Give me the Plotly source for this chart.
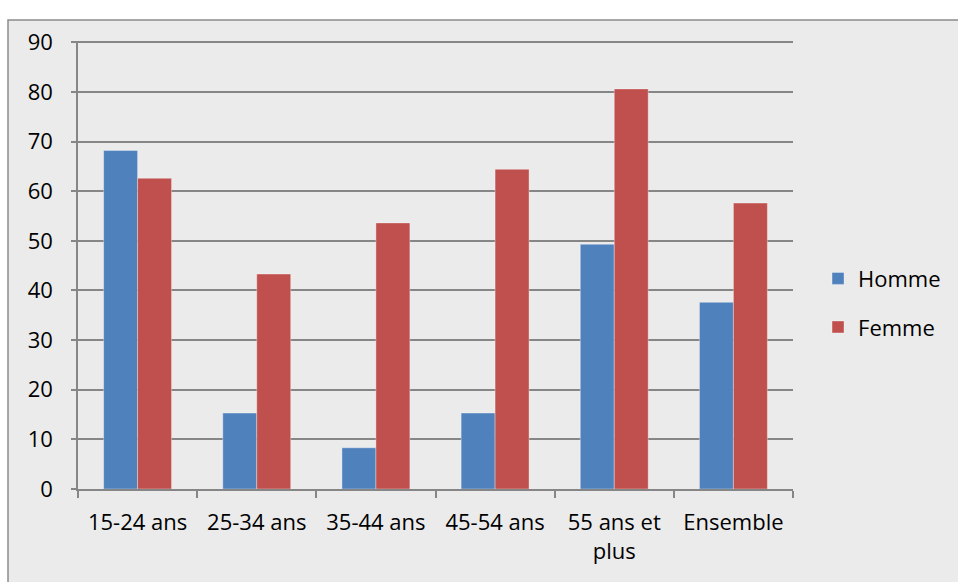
import plotly.graph_objects as go

categories = ["15-24 ans", "25-34 ans", "35-44 ans", "45-54 ans", "55 ans et<br>plus", "Ensemble"]
homme = [68.2, 15.3, 8.3, 15.3, 49.3, 37.6]
femme = [62.6, 43.3, 53.6, 64.4, 80.6, 57.6]
y_ticks = [0, 10, 20, 30, 40, 50, 60, 70, 80, 90]

BLUE = "#4F81BD"
RED = "#C0504D"
GRID = "#868686"
BG = "#EBEBEB"
FONT = "Open Sans, Liberation Sans, sans-serif"

fig = go.Figure()
fig.add_trace(go.Bar(
    name="Homme", x=categories, y=homme,
    marker=dict(color=BLUE, line=dict(color="rgba(255,255,255,0.35)", width=1)),
    legendgroup="h",
))
fig.add_trace(go.Bar(
    name="Femme", x=categories, y=femme,
    marker=dict(color=RED, line=dict(color="rgba(255,255,255,0.35)", width=1)),
    legendgroup="f",
))

W, H = 958, 582
L, R, T, B = 78, 165, 41, 93
pw, ph = W - L - R, H - T - B

# chart area panel with its grey frame on the top and left
fig.add_shape(
    type="rect", xref="paper", yref="paper", layer="below",
    x0=(8 - L) / pw, x1=(W + 10 - L) / pw,
    y0=-(H + 10 - T - ph) / ph, y1=(H - B - 20) / ph,
    fillcolor=BG, line=dict(color="#8C8C8C", width=1.5),
)

fig.update_layout(
    width=W, height=H,
    margin=dict(l=L, r=R, t=T, b=B),
    paper_bgcolor="white",
    plot_bgcolor="rgba(0,0,0,0)",
    barmode="group",
    bargap=0.43,
    bargroupgap=0,
    font=dict(family=FONT, size=22, color="#000000"),
    legend=dict(
        x=1.035, y=0.415, xanchor="left", yanchor="middle",
        bgcolor="rgba(0,0,0,0)", font=dict(size=22),
        tracegroupgap=17, itemwidth=30,
    ),
    xaxis=dict(
        showgrid=False, showline=True, linecolor=GRID, linewidth=1.5,
        ticks="outside", tickson="boundaries", ticklen=7, tickcolor=GRID, tickwidth=1.5,
        tickfont=dict(size=22), ticklabelstandoff=13,
    ),
    yaxis=dict(
        range=[0, 90.25], tickvals=y_ticks,
        showgrid=True, gridcolor=GRID, gridwidth=1.5,
        showline=True, linecolor=GRID, linewidth=1.5,
        ticks="outside", ticklen=5, tickcolor=GRID, tickwidth=1.5,
        tickfont=dict(size=22), ticklabelstandoff=14,
        zeroline=False,
    ),
)

fig.write_html("out.html")
